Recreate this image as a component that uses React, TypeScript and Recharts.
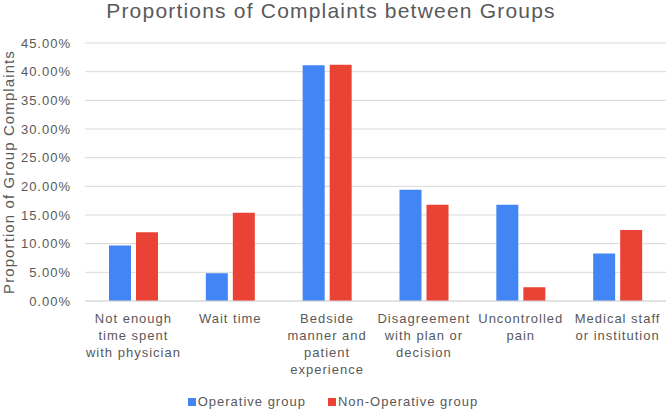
import React from "react";
import { BarChart, Bar, XAxis, YAxis, CartesianGrid, Legend } from "recharts";

const categories = [
  "Not enough\ntime spent\nwith physician",
  "Wait time",
  "Bedside\nmanner and\npatient\nexperience",
  "Disagreement\nwith plan or\ndecision",
  "Uncontrolled\npain",
  "Medical staff\nor institution",
];
const operative = [9.68, 4.84, 41.1, 19.4, 16.8, 8.3];
const nonOperative = [12.0, 15.4, 41.2, 16.8, 2.4, 12.4];
const yTicks = [0, 5, 10, 15, 20, 25, 30, 35, 40, 45];

const seriesNames = ["Operative group", "Non-Operative group"];
const BLUE = "#4285F4";
const RED = "#EA4335";
const TEXT = "#595959";
const GRID = "#d9d9d9";
const FONT = "'Liberation Sans', Arial, sans-serif";

const data = categories.map((name, i) => ({
  name,
  op: operative[i],
  nonOp: nonOperative[i],
}));

function CategoryTick(props: any) {
  const { x, y, payload } = props;
  const lines = String(payload.value).split("\n");
  return (
    <g transform={`translate(${x},${y})`}>
      <text
        textAnchor="middle"
        fill={TEXT}
        fontSize={13}
        fontFamily={FONT}
        letterSpacing={1}
      >
        {lines.map((l, i) => (
          <tspan key={i} x={0} dy={i === 0 ? 22 : 17}>
            {l}
          </tspan>
        ))}
      </text>
    </g>
  );
}

function YLabel(props: any) {
  const vb = props.viewBox || { x: 0, y: 43, width: 85, height: 258 };
  const cx = vb.x + 14;
  const cy = vb.y + vb.height / 2;
  return (
    <text
      x={cx}
      y={cy}
      transform={`rotate(-90, ${cx}, ${cy})`}
      textAnchor="middle"
      fill={TEXT}
      fontSize={15}
      fontFamily={FONT}
      letterSpacing={1.1}
    >
      Proportion of Group Complaints
    </text>
  );
}

function LegendContent() {
  const colors = [BLUE, RED];
  return (
    <div
      style={{
        display: "flex",
        justifyContent: "center",
        gap: 22,
        fontFamily: FONT,
        fontSize: 13,
        letterSpacing: 1,
        color: TEXT,
        lineHeight: "20px",
      }}
    >
      {seriesNames.map((n, i) => (
        <span key={n} style={{ display: "flex", alignItems: "center" }}>
          <span
            style={{
              width: 8,
              height: 8,
              background: colors[i],
              display: "inline-block",
              marginRight: 2,
            }}
          />
          {n}
        </span>
      ))}
    </div>
  );
}

export default function App() {
  return (
    <div style={{ position: "absolute", left: 0, top: 0, width: 669, height: 412, background: "#fff" }}>
      <div
        style={{
          position: "absolute",
          left: 0,
          top: 0,
          width: 662,
          textAlign: "center",
          fontFamily: FONT,
          fontSize: 21,
          letterSpacing: 1.2,
          lineHeight: "21px",
          color: TEXT,
        }}
      >
        Proportions of Complaints between Groups
      </div>
      <BarChart
        width={669}
        height={412}
        data={data}
        margin={{ top: 43, right: 3, left: 0, bottom: 0 }}
        barGap={5}
        barSize={22}
      >
        <CartesianGrid vertical={false} stroke={GRID} />
        <XAxis
          dataKey="name"
          interval={0}
          tickLine={false}
          tickSize={0}
          tickMargin={0}
          axisLine={{ stroke: GRID }}
          height={91}
          tick={<CategoryTick />}
        />
        <YAxis
          width={85}
          domain={[0, 45]}
          ticks={yTicks}
          tickFormatter={(v: number) => `${v.toFixed(2)}%`}
          axisLine={false}
          tickLine={false}
          tickSize={0}
          tickMargin={14}
          tick={{ fill: TEXT, fontSize: 13, fontFamily: FONT, letterSpacing: 1 }}
          label={<YLabel />}
        />
        <Legend verticalAlign="bottom" height={20} content={<LegendContent />} />
        <Bar dataKey="op" name={seriesNames[0]} fill={BLUE} isAnimationActive={false} />
        <Bar dataKey="nonOp" name={seriesNames[1]} fill={RED} isAnimationActive={false} />
      </BarChart>
    </div>
  );
}
